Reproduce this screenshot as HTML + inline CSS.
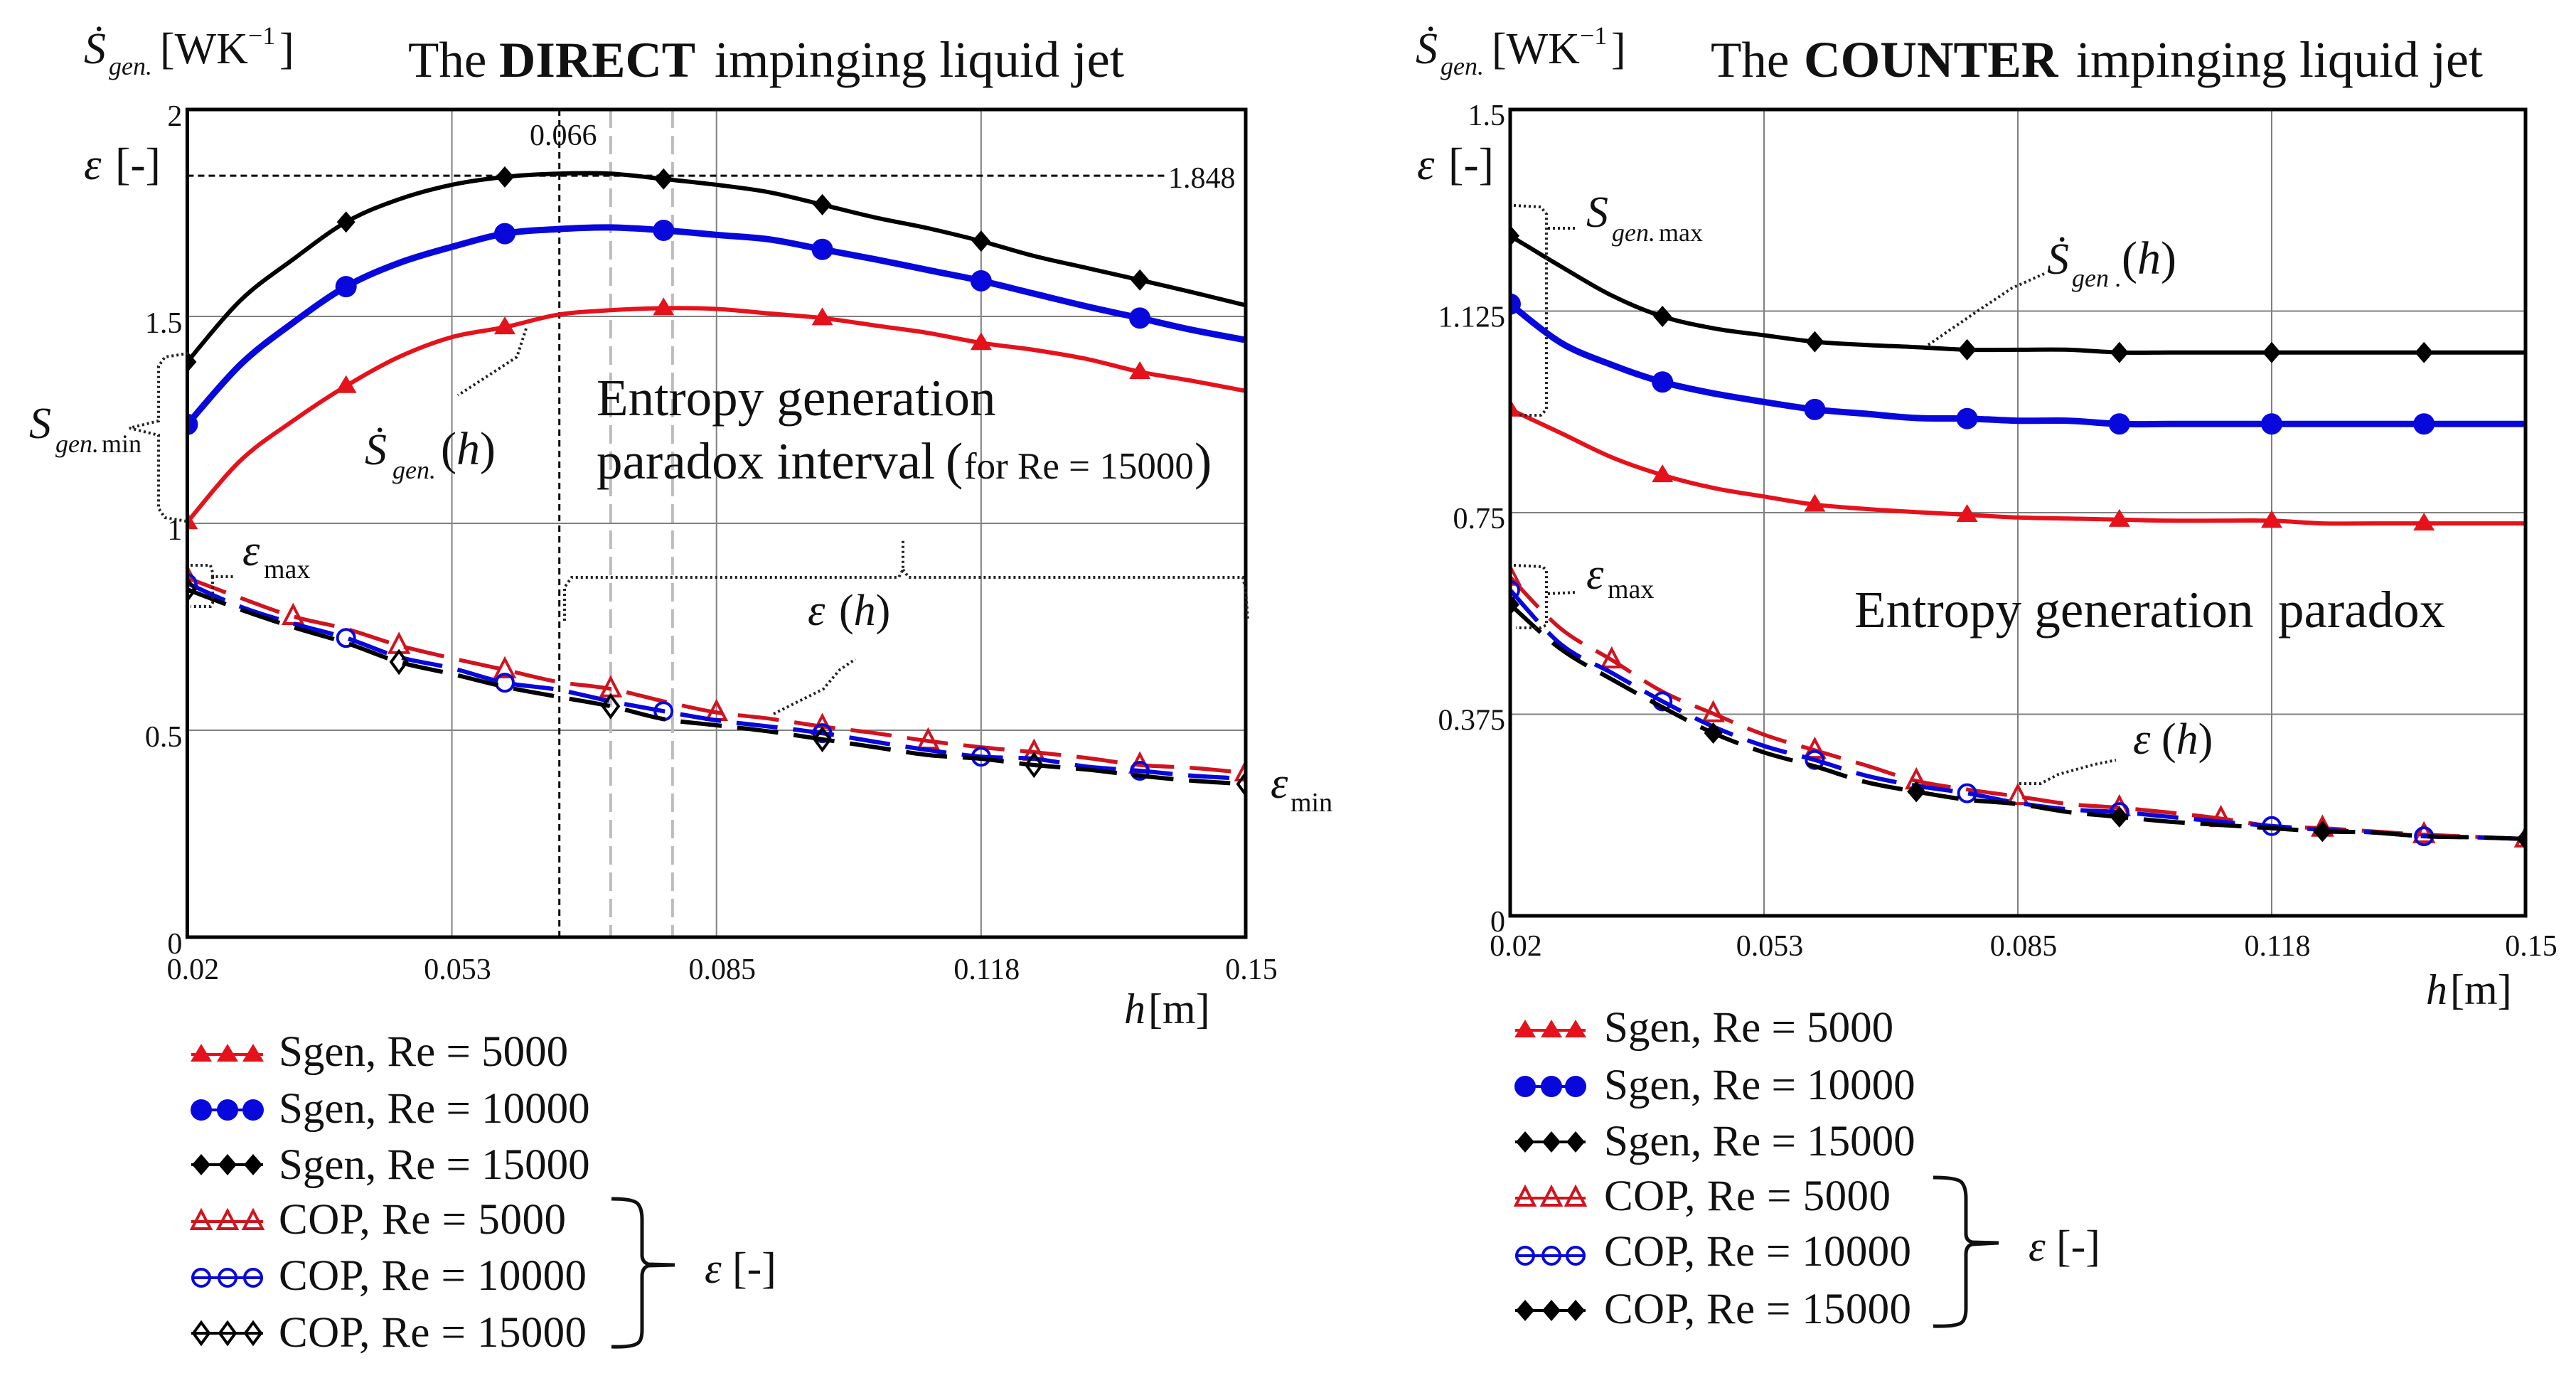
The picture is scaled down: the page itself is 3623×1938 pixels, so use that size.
<!DOCTYPE html>
<html lang="en">
<head>
<meta charset="utf-8">
<title>Entropy generation paradox charts</title>
<style>
html,body{margin:0;padding:0;background:#fff;}
svg{display:block;}
text{font-family:"Liberation Serif",serif;fill:#111;}
.i{font-style:italic;}
.dot{fill:none;stroke:#222;stroke-width:4;stroke-dasharray:3 4;}
.brace{fill:none;stroke:#111;stroke-width:5;}
</style>
</head>
<body>
<svg id="figure" width="3623" height="1938" viewBox="0 0 3623 1938" xmlns="http://www.w3.org/2000/svg">
<rect width="3623" height="1938" fill="#fff"/>

<g id="direct-panel"></g>
<g id="counter-panel"></g>

<!-- DIRECT headers -->
<g>
<text class="i" x="118" y="89" font-size="62">Ṡ</text>
<text class="i" x="153" y="105" font-size="36">gen.</text>
<text x="225" y="89" font-size="62">[WK</text>
<text x="349" y="62" font-size="36">−1</text>
<text x="393" y="89" font-size="62">]</text>
</g>
<g>
<text class="i" x="118" y="252" font-size="62">ε</text>
<text x="162" y="252" font-size="64">[-]</text>
</g>
<g>
<text x="574" y="108" font-size="71">The</text>
<text x="702" y="108" font-size="71" font-weight="bold">DIRECT</text>
<text x="1005" y="108" font-size="72.5">impinging liquid jet</text>
</g>
<text x="745" y="204" font-size="42">0.066</text>
<text x="1643" y="264" font-size="42">1.848</text>
<g>
<text x="839" y="584" font-size="73">Entropy generation</text>
<text x="839" y="673" font-size="73">paradox interval</text>
<text x="1330" y="673" font-size="73">(</text>
<text x="1356" y="673" font-size="53">for Re = 15000</text>
<text x="1680" y="673" font-size="73">)</text>
</g>
<g>
<text class="i" x="513" y="653" font-size="62">Ṡ</text>
<text class="i" x="552" y="673" font-size="36">gen.</text>
<text x="620" y="653" font-size="66">(<tspan class="i">h</tspan>)</text>
</g>
<g>
<text class="i" x="41" y="616" font-size="62">S</text>
<text class="i" x="78" y="636" font-size="36">gen.</text>
<text x="143" y="636" font-size="36">min</text>
</g>
<g>
<text class="i" x="341" y="795" font-size="62">ε</text>
<text x="371" y="813" font-size="38">max</text>
</g>
<g>
<text class="i" x="1136" y="879" font-size="62">ε</text>
<text x="1180" y="879" font-size="62">(<tspan class="i">h</tspan>)</text>
</g>
<g>
<text class="i" x="1787" y="1122" font-size="62">ε</text>
<text x="1815" y="1141" font-size="38">min</text>
</g>
<g>
<text class="i" x="1581" y="1439" font-size="60">h</text>
<text x="1615" y="1439" font-size="60">[m]</text>
</g>
<path class="dot" d="M740 462 L727 502 L644 556"/>
<path class="dot" d="M265 497 L232 502 L223 515 L223 592 L182 602 L223 612 L223 715 L232 728 L262 733"/>
<path class="dot" d="M268 795 L296 795 L299 805 L299 811 L329 811 M299 811 L299 848 L296 853 L268 853"/>
<path class="dot" d="M794 873 L794 826 L804 812 L1264 812 L1270 801 L1270 757 M1270 801 L1278 812 L1748 812 L1752 830 L1755 872"/>
<path class="dot" d="M1088 1004 L1158 969 L1181 942 L1203 927"/>

<!-- DIRECT legend text -->
<g font-size="61">
<text x="392" y="1499">Sgen, Re = 5000</text>
<text x="392" y="1579">Sgen, Re = 10000</text>
<text x="392" y="1658">Sgen, Re = 15000</text>
<text x="392" y="1735" textLength="404">COP, Re = 5000</text>
<text x="392" y="1814" textLength="433">COP, Re = 10000</text>
<text x="392" y="1894" textLength="433">COP, Re = 15000</text>
</g>
<path class="brace" d="M860 1686 Q891 1686 897 1693 Q903 1700 903 1715 L903 1765 Q903 1775 912 1778 L949 1779 L912 1780 Q903 1783 903 1795 L903 1870 Q903 1885 897 1889 Q889 1895 860 1894"/>
<g>
<text class="i" x="991" y="1804" font-size="60">ε</text>
<text x="1030" y="1804" font-size="62">[-]</text>
</g>

<!-- COUNTER headers -->
<g>
<text class="i" x="1991" y="89" font-size="62">Ṡ</text>
<text class="i" x="2026" y="105" font-size="36">gen.</text>
<text x="2098" y="89" font-size="62">[WK</text>
<text x="2222" y="62" font-size="36">−1</text>
<text x="2266" y="89" font-size="62">]</text>
</g>
<g>
<text class="i" x="1993" y="252" font-size="62">ε</text>
<text x="2037" y="252" font-size="64">[-]</text>
</g>
<g>
<text x="2406" y="108" font-size="71">The</text>
<text x="2537" y="108" font-size="71.5" font-weight="bold">COUNTER</text>
<text x="2920" y="108" font-size="72">impinging liquid jet</text>
</g>
<g>
<text class="i" x="2231" y="319" font-size="62">S</text>
<text class="i" x="2267" y="339" font-size="36">gen.</text>
<text x="2333" y="339" font-size="36">max</text>
</g>
<g>
<text class="i" x="2231" y="828" font-size="62">ε</text>
<text x="2261" y="841" font-size="38">max</text>
</g>
<g>
<text class="i" x="2879" y="385" font-size="62">Ṡ</text>
<text class="i" x="2914" y="403" font-size="36">gen .</text>
<text x="2984" y="385" font-size="66">(<tspan class="i">h</tspan>)</text>
</g>
<g>
<text x="2608" y="882" font-size="73">Entropy generation</text>
<text x="3204" y="882" font-size="73">paradox</text>
</g>
<g>
<text class="i" x="3000" y="1060" font-size="62">ε</text>
<text x="3040" y="1060" font-size="62">(<tspan class="i">h</tspan>)</text>
</g>
<g>
<text class="i" x="3412" y="1412" font-size="60">h</text>
<text x="3446" y="1412" font-size="60">[m]</text>
</g>
<path class="dot" d="M2129 289 L2167 291 L2175 301 L2175 576 L2167 584 L2135 584 M2177 321 L2218 321"/>
<path class="dot" d="M2129 795 L2170 797 L2175 803 L2175 879 L2167 883 L2132 883 M2177 835 L2218 833"/>
<path class="dot" d="M2712 485 L2779 439 L2830 405 L2875 385"/>
<path class="dot" d="M2840 1102 L2870 1102 L2895 1089 L2946 1075 L2976 1069"/>

<!-- COUNTER legend text -->
<g font-size="61">
<text x="2256" y="1465">Sgen, Re = 5000</text>
<text x="2256" y="1546">Sgen, Re = 10000</text>
<text x="2256" y="1625">Sgen, Re = 15000</text>
<text x="2256" y="1702" textLength="403">COP, Re = 5000</text>
<text x="2256" y="1780" textLength="432">COP, Re = 10000</text>
<text x="2256" y="1861" textLength="432">COP, Re = 15000</text>
</g>
<path class="brace" d="M2719 1656 Q2753 1656 2759 1663 Q2765 1670 2765 1685 L2765 1735 Q2765 1745 2774 1747 L2811 1748 L2774 1750 Q2765 1752 2765 1764 L2765 1840 Q2765 1855 2759 1860 Q2751 1866 2719 1865"/>
<g>
<text class="i" x="2853" y="1773" font-size="60">ε</text>
<text x="2892" y="1773" font-size="62">[-]</text>
</g>

<script>
// Shared x samples, h [m]
const hValues = [0.02,0.0265,0.033,0.0395,0.046,0.0525,0.059,0.0655,0.072,0.0785,0.085,0.0915,0.098,0.1045,0.111,0.1175,0.124,0.1305,0.137,0.1435,0.15];

// DIRECT jet
const directSgen5000 = [1.003,1.151,1.248,1.332,1.402,1.45,1.474,1.504,1.515,1.52,1.518,1.507,1.496,1.478,1.46,1.436,1.419,1.397,1.366,1.344,1.32];
const directSgen10000 = [1.239,1.383,1.485,1.572,1.629,1.668,1.70,1.711,1.715,1.708,1.697,1.686,1.662,1.638,1.612,1.586,1.555,1.524,1.496,1.467,1.443];
const directSgen15000 = [1.39,1.538,1.638,1.728,1.783,1.818,1.837,1.845,1.845,1.832,1.818,1.80,1.77,1.739,1.713,1.682,1.646,1.617,1.588,1.558,1.527];
const directCop5000 = [0.868,0.82,0.775,0.745,0.705,0.674,0.646,0.617,0.60,0.57,0.543,0.528,0.509,0.493,0.474,0.459,0.447,0.433,0.416,0.409,0.397];
const directCop10000 = [0.855,0.799,0.758,0.723,0.677,0.65,0.615,0.598,0.57,0.546,0.524,0.509,0.493,0.472,0.452,0.436,0.431,0.412,0.402,0.39,0.383];
const directCop15000 = [0.84,0.792,0.749,0.711,0.665,0.636,0.605,0.581,0.558,0.527,0.512,0.497,0.478,0.459,0.44,0.431,0.416,0.405,0.39,0.378,0.37];
const directYTicks = [0,0.5,1,1.5,2];
const directYTickLabels = ['0','0.5','1','1.5','2'];
const directPeakH = 0.0657;
const directPeakSgen = 1.84;
const directIntervalH = [0.072,0.0796];

// COUNTER jet
const counterSgen5000 = [0.942,0.898,0.853,0.82,0.796,0.78,0.765,0.757,0.751,0.746,0.741,0.739,0.737,0.735,0.735,0.735,0.73,0.73,0.73,0.73,0.73];
const counterSgen10000 = [1.138,1.066,1.025,0.993,0.972,0.956,0.942,0.934,0.926,0.925,0.921,0.921,0.915,0.915,0.915,0.915,0.915,0.915,0.915,0.915,0.915];
const counterSgen15000 = [1.265,1.208,1.154,1.115,1.093,1.08,1.068,1.062,1.058,1.053,1.053,1.053,1.048,1.048,1.048,1.048,1.048,1.048,1.048,1.048,1.048];
const counterCop5000 = [0.63,0.534,0.476,0.417,0.376,0.337,0.308,0.28,0.251,0.235,0.222,0.208,0.201,0.192,0.181,0.167,0.163,0.157,0.151,0.147,0.143];
const counterCop10000 = [0.606,0.505,0.452,0.399,0.352,0.316,0.29,0.261,0.242,0.228,0.21,0.198,0.193,0.184,0.175,0.167,0.16,0.155,0.148,0.146,0.143];
const counterCop15000 = [0.579,0.496,0.44,0.388,0.34,0.304,0.278,0.249,0.231,0.216,0.208,0.193,0.184,0.175,0.169,0.163,0.157,0.155,0.148,0.146,0.143];
const counterYTicks = [0,0.375,0.75,1.125,1.5];
const counterYTickLabels = ['0','0.375','0.75','1.125','1.5'];

const xTicks = [0.02,0.0525,0.085,0.1175,0.15];
const xTickLabels = ['0.02','0.053','0.085','0.118','0.15'];

const RED = '#e5121c', RED_DARK = '#d0141f', BLUE = '#0808dc', BLACK = '#000';
const NS = 'http://www.w3.org/2000/svg';

function svgEl(tag, parent, attrs) {
  const el = document.createElementNS(NS, tag);
  for (const k in attrs) el.setAttribute(k, attrs[k]);
  parent.appendChild(el);
  return el;
}

function xScale(p, h) {
  return p.left + (h - xTicks[0]) / (xTicks[xTicks.length - 1] - xTicks[0]) * (p.right - p.left);
}
function yScale(p, v) {
  return p.bottom - v / p.yMax * (p.bottom - p.top);
}

function curvePath(pts) {
  let d = 'M' + pts[0][0].toFixed(1) + ' ' + pts[0][1].toFixed(1);
  for (let i = 0; i < pts.length - 1; i++) {
    const a = pts[i - 1] || pts[i], b = pts[i], c = pts[i + 1], e = pts[i + 2] || c;
    d += ' C' + (b[0] + (c[0] - a[0]) / 6).toFixed(1) + ' ' + (b[1] + (c[1] - a[1]) / 6).toFixed(1) +
         ' ' + (c[0] - (e[0] - b[0]) / 6).toFixed(1) + ' ' + (c[1] - (e[1] - b[1]) / 6).toFixed(1) +
         ' ' + c[0].toFixed(1) + ' ' + c[1].toFixed(1);
  }
  return d;
}

function drawMarker(parent, shape, open, cx, cy, color) {
  const style = open ? {fill: 'none', stroke: color, 'stroke-width': 4} : {fill: color};
  let el;
  if (shape === 'circle') {
    el = svgEl('circle', parent, Object.assign({cx: cx, cy: cy, r: open ? 12 : 15}, style));
  } else if (shape === 'triangle') {
    const w = open ? 13 : 15;
    el = svgEl('polygon', parent, Object.assign({points: (cx - w) + ',' + (cy + 10) + ' ' + (cx + w) + ',' + (cy + 10) + ' ' + cx + ',' + (cy - 15)}, style));
  } else {
    const w = open ? 11 : 13;
    el = svgEl('polygon', parent, Object.assign({points: (cx - w) + ',' + cy + ' ' + cx + ',' + (cy - 15) + ' ' + (cx + w) + ',' + cy + ' ' + cx + ',' + (cy + 15)}, style));
  }
  return el;
}

function drawPanel(p) {
  const g = document.getElementById(p.id);

  const defs = svgEl('defs', g, {});
  const clip = svgEl('clipPath', defs, {id: p.id + '-clip'});
  svgEl('rect', clip, {x: p.left, y: p.top, width: p.right - p.left, height: p.bottom - p.top});

  p.yTicks.forEach(function (v, i) {
    if (v > 0 && v < p.yMax) {
      const line = svgEl('line', g, {x1: p.left, x2: p.right, y1: yScale(p, v), y2: yScale(p, v), stroke: '#808080', 'stroke-width': 2});
      
      
    }
    const t = svgEl('text', g, {x: p.left - 7, y: yScale(p, v) + p.yLabelDy, 'text-anchor': 'end', 'font-size': 42});
    t.textContent = p.yLabels[i];
    
    
  });
  xTicks.forEach(function (h, i) {
    if (i > 0 && i < xTicks.length - 1) {
      const line = svgEl('line', g, {x1: xScale(p, h), x2: xScale(p, h), y1: p.top, y2: p.bottom, stroke: '#808080', 'stroke-width': 2});
      
      
    }
    const t = svgEl('text', g, {x: xScale(p, h) + 8, y: p.xLabelY, 'text-anchor': 'middle', 'font-size': 42});
    t.textContent = xTickLabels[i];
    
    
  });

  if (p.intervalH) {
    p.intervalH.forEach(function (h) {
      const line = svgEl('line', g, {x1: xScale(p, h), x2: xScale(p, h), y1: p.top, y2: p.bottom, stroke: '#bcbcbc', 'stroke-width': 4, 'stroke-dasharray': '26 11'});
      
      
    });
    const vRef = svgEl('line', g, {x1: xScale(p, p.peakH), x2: xScale(p, p.peakH), y1: p.top, y2: p.bottom, stroke: '#000', 'stroke-width': 3, 'stroke-dasharray': '9 6'});
    
    
    const hRef = svgEl('line', g, {x1: p.left, x2: p.right - 110, y1: yScale(p, p.peakV), y2: yScale(p, p.peakV), stroke: '#000', 'stroke-width': 3, 'stroke-dasharray': '9 6'});
    
    
  }

  const plotArea = svgEl('g', g, {'clip-path': 'url(#' + p.id + '-clip)'});
  
  

  p.series.forEach(function (s, idx) {
    const pts = s.values.map(function (v, i) {
      return [xScale(p, hValues[i]), yScale(p, v)];
    });
    const attrs = {d: curvePath(pts), fill: 'none', stroke: s.color, 'stroke-width': s.width};
    if (s.dash) attrs['stroke-dasharray'] = s.dash;
    const line = svgEl('path', plotArea, attrs);
    
    

    s.values.forEach(function (v, i) {
      if (i % s.every !== 0) return;
      const m = drawMarker(plotArea, s.shape, s.open, xScale(p, hValues[i]), yScale(p, v), s.color);
      
      
    });

    // legend swatch
    const ly = p.legendY[idx];
    const sw = svgEl('line', g, {x1: p.legendX[0] - 14, x2: p.legendX[2] + 14, y1: ly, y2: ly, stroke: s.color, 'stroke-width': 4});
    
    
    p.legendX.forEach(function (lx) {
      const m = drawMarker(g, s.shape, s.open, lx, ly, s.color);
      
      
    });
  });

  const frame = svgEl('rect', g, {x: p.left, y: p.top, width: p.right - p.left, height: p.bottom - p.top, fill: 'none', stroke: '#000', 'stroke-width': 5});
  
  
}

function buildSeries(v, lastFilled) {
  return [
    {name: 'sgen-re-5000', values: v[0], color: RED, width: 6, shape: 'triangle', open: false, every: 3},
    {name: 'sgen-re-10000', values: v[1], color: BLUE, width: 9, shape: 'circle', open: false, every: 3},
    {name: 'sgen-re-15000', values: v[2], color: BLACK, width: 6, shape: 'diamond', open: false, every: 3},
    {name: 'cop-re-5000', values: v[3], color: RED_DARK, width: 5.5, shape: 'triangle', open: true, every: 2, dash: '58 22'},
    {name: 'cop-re-10000', values: v[4], color: BLUE, width: 6, shape: 'circle', open: true, every: 3, dash: '58 22'},
    {name: 'cop-re-15000', values: v[5], color: BLACK, width: 6, shape: 'diamond', open: !lastFilled, every: 4, dash: '58 22'}
  ];
}

drawPanel({
  id: 'direct-panel', left: 263.4, right: 1752, top: 154, bottom: 1318, yMax: 2,
  yTicks: directYTicks, yLabels: directYTickLabels, xLabelY: 1377, yLabelDy: 23,
  intervalH: directIntervalH, peakH: directPeakH, peakV: directPeakSgen,
  series: buildSeries([directSgen5000, directSgen10000, directSgen15000, directCop5000, directCop10000, directCop15000], false),
  legendX: [283, 320, 356], legendY: [1483, 1561, 1638, 1718, 1797, 1875]
});

drawPanel({
  id: 'counter-panel', left: 2124, right: 3552, top: 154, bottom: 1288, yMax: 1.5,
  yTicks: counterYTicks, yLabels: counterYTickLabels, xLabelY: 1344, yLabelDy: 22,
  series: buildSeries([counterSgen5000, counterSgen10000, counterSgen15000, counterCop5000, counterCop10000, counterCop15000], true),
  legendX: [2145, 2182, 2216], legendY: [1449, 1528, 1606, 1685, 1766, 1843]
});
</script>
</svg>
</body>
</html>
